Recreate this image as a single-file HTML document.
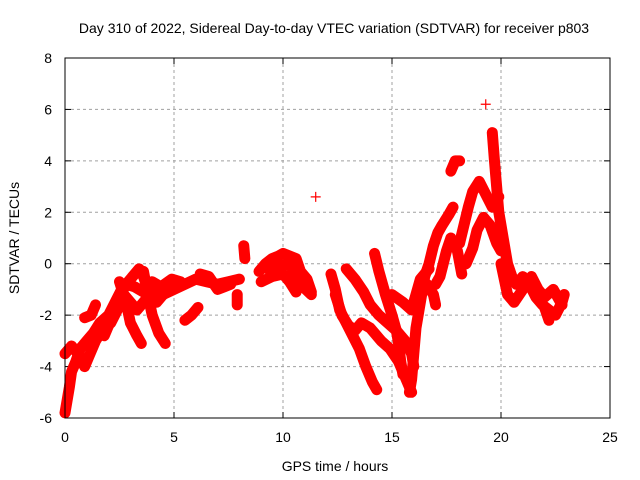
<!DOCTYPE html>
<html><head><meta charset="utf-8">
<style>
body{margin:0;background:#fff;}
svg{display:block;font-family:"Liberation Sans",sans-serif;}
</style></head>
<body>
<svg id="chart" width="640" height="480">
<rect x="0" y="0" width="640" height="480" fill="#fff"/>
<text x="334" y="33" font-size="14" text-anchor="middle">Day 310 of 2022, Sidereal Day-to-day VTEC variation (SDTVAR) for receiver p803</text>
<text x="335" y="471" font-size="14" text-anchor="middle">GPS time / hours</text>
<text transform="translate(19,238) rotate(-90)" font-size="14" text-anchor="middle">SDTVAR / TECUs</text>
<g id="grid"></g>
<g id="marks"></g>
<rect x="65" y="58" width="545" height="360" fill="none" stroke="#000" stroke-width="1"/>
</svg>
<script>
const xTicks=[0,5,10,15,20,25];
const yTicks=[-6,-4,-2,0,2,4,6,8];
const tracks=[
[[0,-5.8],[0.1,-5.3],[0.2,-4.8],[0.3,-4.2],[0.5,-3.8],[0.7,-3.3],[1.0,-3.0],[1.3,-2.7],[1.6,-2.3],[2.0,-2.0],[2.3,-1.5],[2.6,-1.0],[3.0,-0.6],[3.4,-0.2],[3.6,-0.5],[3.8,-1.0],[4.1,-1.0],[4.5,-1.2],[5.0,-1.0],[5.5,-0.8],[6.0,-0.6],[6.5,-0.7],[7.0,-0.8],[7.5,-0.7],[8.0,-0.6]],
[[0,-3.5],[0.3,-3.2],[0.6,-3.5],[0.9,-4.0],[1.1,-3.6],[1.4,-3.0],[1.7,-2.6],[2.1,-2.3],[2.4,-1.8],[2.7,-1.2],[3.0,-1.5],[3.3,-1.8],[3.6,-1.5],[3.9,-1.2],[4.2,-1.5],[4.5,-1.2],[5.0,-0.9]],
[[1.8,-2.8],[2.2,-2.0],[2.5,-1.3],[2.8,-0.8],[3.2,-0.9],[3.6,-1.1],[4.0,-0.7],[4.4,-0.9],[4.9,-0.6],[5.3,-0.7]],
[[2.5,-0.7],[2.8,-1.5],[3.0,-2.3],[3.3,-2.8],[3.5,-3.1]],
[[3.6,-0.3],[3.8,-1.2],[4.0,-2.0],[4.3,-2.7],[4.6,-3.1]],
[[0.9,-2.1],[1.2,-2.0],[1.4,-1.6]],
[[5.5,-2.2],[5.8,-2.0],[6.1,-1.7]],
[[6.2,-0.4],[6.6,-0.5],[7.0,-1.0],[7.3,-0.9],[7.6,-0.8]],
[[8.2,0.7],[8.25,0.2]],
[[7.9,-1.2],[7.9,-1.6]],
[[8.9,-0.3],[9.2,0],[9.5,0.2],[9.8,0.3],[10.0,0.4],[10.3,0.3],[10.6,0.2],[10.8,-0.3],[11.1,-0.6],[11.3,-1.1]],
[[9.0,-0.7],[9.5,-0.5],[10.0,-0.4],[10.3,-0.7],[10.6,-1.1]],
[[9.3,-0.2],[9.8,-0.1],[10.3,0],[10.8,-0.8],[11.3,-1.2]],
[[11.5,2.6]],
[[12.2,-0.4],[12.4,-1.0],[12.6,-1.8],[12.9,-2.3],[13.2,-2.8],[13.5,-3.3],[13.8,-4.0],[14.1,-4.6],[14.3,-4.9]],
[[12.4,-1.2],[12.7,-2.0],[13.0,-2.4],[13.3,-2.6],[13.6,-2.3],[14.0,-2.5],[14.5,-3.0],[14.9,-3.3],[15.3,-3.8],[15.6,-4.4],[15.9,-5.0]],
[[12.9,-0.2],[13.3,-0.6],[13.7,-1.1],[14.0,-1.6],[14.4,-2.0],[14.8,-2.3],[15.2,-2.6],[15.6,-3.0],[15.9,-3.5],[16.0,-4.0]],
[[14.2,0.4],[14.4,-0.3],[14.7,-1.2],[15.0,-2.0],[15.2,-2.6],[15.3,-3.1],[15.4,-3.8],[15.5,-4.3]],
[[15.8,-5.0],[15.9,-4.5],[16.0,-3.5],[16.1,-2.5],[16.3,-1.5],[16.5,-0.5],[16.7,0.0],[16.9,0.7],[17.1,1.2],[17.3,1.5],[17.6,1.9],[17.8,2.2]],
[[15.0,-1.2],[15.5,-1.5],[15.9,-1.8],[16.3,-0.6],[16.7,-0.2]],
[[16.6,-0.8],[16.9,-1.2],[17.0,-1.6]],
[[17.0,-0.8],[17.2,-0.5],[17.5,0.5],[17.7,1.0],[18.0,0.5],[18.2,-0.4]],
[[17.7,3.6],[17.9,4.0],[18.1,4.0]],
[[18.1,0.8],[18.3,1.5],[18.5,2.2],[18.7,2.8],[19.0,3.2],[19.3,2.7],[19.6,2.2],[19.9,2.6]],
[[18.4,0],[18.7,0.6],[18.9,1.3],[19.2,1.8],[19.5,1.5],[19.8,0.8],[20.0,0.5]],
[[19.6,5.1],[19.7,4.0],[19.8,3.0],[19.9,2.0],[20.1,1.0],[20.3,0],[20.5,-0.5],[20.7,-0.8],[21.0,-0.5],[21.3,-0.8],[21.6,-1.3],[21.9,-1.6],[22.2,-1.8],[22.5,-2.0],[22.8,-1.5],[22.9,-1.2]],
[[20.0,0],[20.3,-1.2],[20.6,-1.5],[21.0,-1.0],[21.4,-0.5],[21.7,-1.0],[22.0,-1.3],[22.4,-1.0],[22.8,-1.6]],
[[22.0,-1.7],[22.2,-2.2]],
[[19.3,6.2]]
];
const NS="http://www.w3.org/2000/svg";
const X0=65,X1=610,Y0=418,Y1=58,xmin=0,xmax=25,ymin=-6,ymax=8;
function sx(v){return X0+(v-xmin)/(xmax-xmin)*(X1-X0);}
function sy(v){return Y0-(v-ymin)/(ymax-ymin)*(Y0-Y1);}
const grid=document.getElementById('grid'),marks=document.getElementById('marks');
function mk(tag,attrs,parent){const e=document.createElementNS(NS,tag);for(const k in attrs)e.setAttribute(k,attrs[k]);parent.appendChild(e);return e;}
xTicks.forEach(t=>{
 const x=sx(t);
 if(t>xmin&&t<xmax){const g=mk('line',{x1:x,x2:x,y1:Y1,y2:Y0,stroke:'#a0a0a0','stroke-dasharray':'3,3'},grid);
 
 }
 const tk=mk('line',{x1:x,x2:x,y1:Y0,y2:Y0-6,stroke:'#000'},grid);
 
 
 const tk2=mk('line',{x1:x,x2:x,y1:Y1,y2:Y1+6,stroke:'#000'},grid);
 
 
 const l=mk('text',{x:x,y:Y0+24,'font-size':14,'text-anchor':'middle'},grid);l.textContent=t;
 
 
});
yTicks.forEach(t=>{
 const y=sy(t);
 if(t>ymin&&t<ymax){const g=mk('line',{x1:X0,x2:X1,y1:y,y2:y,stroke:'#a0a0a0','stroke-dasharray':'3,3'},grid);
 
 }
 const tk=mk('line',{x1:X0,x2:X0+6,y1:y,y2:y,stroke:'#000'},grid);
 
 
 const tk2=mk('line',{x1:X1,x2:X1-6,y1:y,y2:y,stroke:'#000'},grid);
 
 
 const l=mk('text',{x:X0-13,y:y+5,'font-size':14,'text-anchor':'end'},grid);l.textContent=t;
 
 
});
tracks.forEach(tr=>{
 const pts=tr.map(p=>sx(p[0])+','+sy(p[1])).join(' ');
 if(tr.length>1){const pl=mk('polyline',{points:pts,fill:'none',stroke:'#ff0000','stroke-width':11,'stroke-linejoin':'round','stroke-linecap':'round'},marks);
 
 }
 tr.forEach(p=>{
  const x=sx(p[0]),y=sy(p[1]);
  const m=mk('path',{d:`M${x-5},${y}H${x+5}M${x},${y-5}V${y+5}`,stroke:'#ff0000','stroke-width':1.2},marks);
  
  
 });
});
</script>
</body></html>
